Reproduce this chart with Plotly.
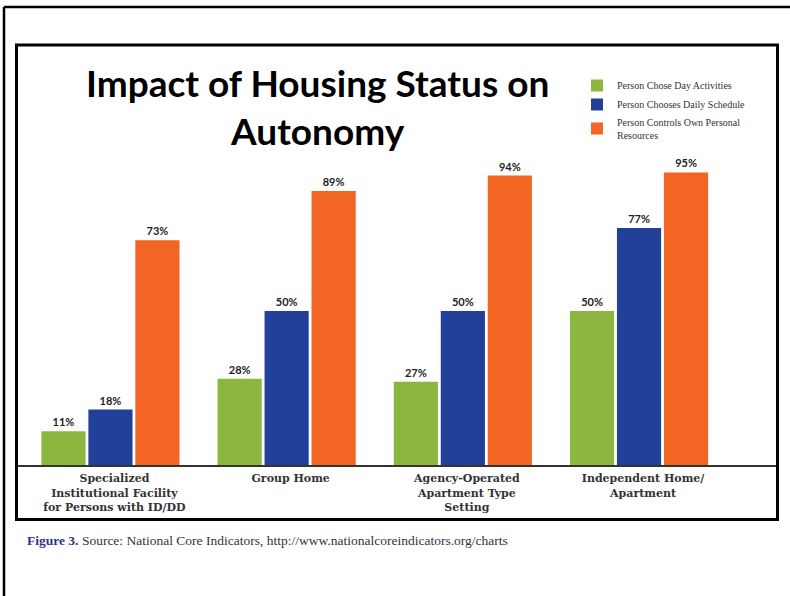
import plotly.graph_objects as go

# Housing settings (x categories) and the share of people in each
categories = [
    "Specialized<br>Institutional Facility<br>for Persons with ID/DD",
    "Group Home",
    "Agency-Operated<br>Apartment Type<br>Setting",
    "Independent Home/<br>Apartment",
]
series_names = [
    "Person Chose Day Activities",
    "Person Chooses Daily Schedule",
    "Person Controls Own Personal<br>Resources",
]
chose_day_activities = [11, 28, 27, 50]
chooses_daily_schedule = [18, 50, 50, 77]
controls_own_resources = [73, 89, 94, 95]

series_values = [chose_day_activities, chooses_daily_schedule, controls_own_resources]
series_colors = ["#8db641", "#21409a", "#f26522"]

W, H = 790, 596


def px(x):
    return x / W


def py(y):
    return 1 - y / H


fig = go.Figure()
for name, vals, color in zip(series_names, series_values, series_colors):
    fig.add_trace(
        go.Bar(
            x=categories,
            y=vals,
            name=name,
            marker=dict(color=color, line=dict(width=0)),
            texttemplate="%{y}%",
            textposition="outside",
            textfont=dict(family="Lato", size=11, weight=700, color="#222222"),
            cliponaxis=False,
        )
    )

fig.update_layout(
    width=W,
    height=H,
    autosize=False,
    margin=dict(l=0, r=0, t=0, b=0),
    paper_bgcolor="white",
    plot_bgcolor="white",
    barmode="group",
    bargap=0.2,
    bargroupgap=0.06,
    showlegend=True,
    legend=dict(
        x=px(577),
        y=py(71),
        xanchor="left",
        yanchor="top",
        bgcolor="rgba(0,0,0,0)",
        font=dict(family="Liberation Serif", size=10, color="#333333"),
        traceorder="normal",
    ),
    xaxis=dict(
        domain=[px(16), px(777)],
        range=[-0.536, 3.783],
        showline=True,
        linecolor="#333333",
        linewidth=2,
        ticks="",
        showgrid=False,
        zeroline=False,
        tickfont=dict(family="DejaVu Serif", size=11, weight=700, color="#333333"),
        ticklabelshift=4,
        ticklabelstandoff=2,
    ),
    yaxis=dict(
        domain=[py(465), py(45)],
        range=[0, 136.4],
        visible=False,
        showgrid=False,
        zeroline=False,
    ),
)

# Chart title, wrapped onto two lines
fig.add_annotation(
    text="Impact of Housing Status on<br>Autonomy",
    x=px(317), y=py(106), xref="paper", yref="paper",
    xanchor="center", yanchor="middle", showarrow=False,
    font=dict(family="Lato", size=37, weight=700, color="black"),
)

# Figure caption under the chart box
fig.add_annotation(
    text="<b><span style='color:#2e3192'>Figure 3.</span></b> Source: National Core Indicators, http://www.nationalcoreindicators.org/charts",
    x=px(25), y=py(540), xref="paper", yref="paper",
    xanchor="left", yanchor="middle", showarrow=False,
    font=dict(family="Liberation Serif", size=13.5, color="#333333"),
)

# Chart frame and page frame
fig.add_shape(
    type="rect", xref="paper", yref="paper",
    x0=px(16.5), x1=px(777.5), y0=py(519.5), y1=py(45),
    line=dict(color="black", width=3), fillcolor="rgba(0,0,0,0)",
)
fig.add_shape(
    type="line", xref="paper", yref="paper",
    x0=px(4), x1=1, y0=py(7), y1=py(7),
    line=dict(color="black", width=2.5),
)
fig.add_shape(
    type="line", xref="paper", yref="paper",
    x0=px(4), x1=px(4), y0=py(7), y1=0,
    line=dict(color="black", width=2.5),
)

fig.write_html("out.html")
